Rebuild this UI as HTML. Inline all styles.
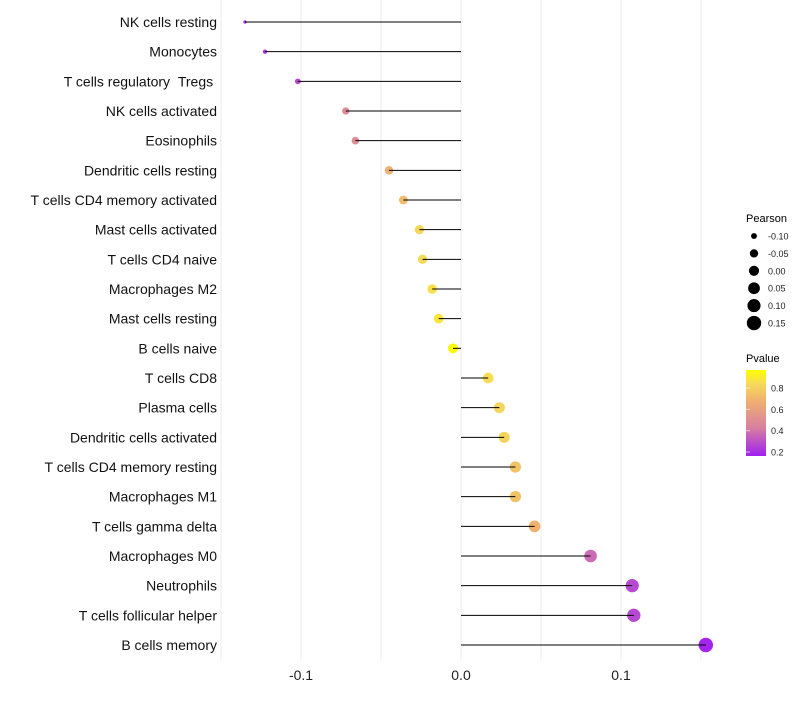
<!DOCTYPE html>
<html><head><meta charset="utf-8"><style>
body{margin:0;background:#fff;font-family:"Liberation Sans",sans-serif}
</style></head><body>
<svg id="chart" width="800" height="700" xmlns="http://www.w3.org/2000/svg">
<defs><linearGradient id="pg" x1="0" y1="1" x2="0" y2="0">
<stop offset="0" stop-color="#a020f0"/><stop offset="0.33" stop-color="#d880a0"/><stop offset="0.64" stop-color="#f0b070"/><stop offset="0.84" stop-color="#f5da5a"/><stop offset="1" stop-color="#ffff00"/>
</linearGradient></defs>
<g id="grid"></g><g id="dots"></g><g id="marks"></g><g id="labels"></g><g id="legend"></g>
</svg>
<script>
const categories=["NK cells resting","Monocytes","T cells regulatory\u00a0\u00a0Tregs\u00a0","NK cells activated","Eosinophils","Dendritic cells resting","T cells CD4 memory activated","Mast cells activated","T cells CD4 naive","Macrophages M2","Mast cells resting","B cells naive","T cells CD8","Plasma cells","Dendritic cells activated","T cells CD4 memory resting","Macrophages M1","T cells gamma delta","Macrophages M0","Neutrophils","T cells follicular helper","B cells memory"];
const pearson=[-0.135,-0.1225,-0.102,-0.072,-0.066,-0.045,-0.036,-0.026,-0.024,-0.018,-0.014,-0.005,0.017,0.024,0.027,0.034,0.034,0.046,0.081,0.107,0.108,0.153];
const pvalue=[0.2,0.25,0.3,0.52,0.52,0.7,0.74,0.85,0.86,0.88,0.9,0.97,0.87,0.84,0.83,0.77,0.77,0.7,0.4,0.3,0.3,0.2];
const xTicks=[-0.1,0,0.1];
const xTickLabels=["-0.1","0.0","0.1"];
const sizeLegend=[-0.10,-0.05,0.00,0.05,0.10,0.15];
const sizeLegendLabels=["-0.10","-0.05","0.00","0.05","0.10","0.15"];
const colorTicks=[0.8,0.6,0.4,0.2];

const NS="http://www.w3.org/2000/svg";
const x=v=>461+v*1600;
const y=i=>22+i*(623/21);
const r=v=>Math.sqrt(Math.max(1.5,2.6+(v+0.135)*172));
function col(p){
 const stops=[[0.19,[160,32,240]],[0.45,[214,126,168]],[0.7,[240,176,112]],[0.86,[245,218,90]],[0.98,[255,255,0]]];
 if(p<=stops[0][0])return "rgb("+stops[0][1]+")";
 for(let k=1;k<stops.length;k++){if(p<=stops[k][0]){const a=stops[k-1],b=stops[k],t=(p-a[0])/(b[0]-a[0]);return "rgb("+a[1].map((c,j)=>Math.round(c+(b[1][j]-c)*t)).join(",")+")";}}
 return "rgb(255,255,0)";
}
function mk(tag,attrs,parent,text){const e=document.createElementNS(NS,tag);for(const k in attrs)e.setAttribute(k,attrs[k]);if(text!==undefined)e.textContent=text;document.getElementById(parent).appendChild(e);return e;}
[-0.15,-0.1,-0.05,0,0.05,0.1,0.15].forEach(v=>{
 const g=mk("line",{x1:x(v),x2:x(v),y1:0,y2:660,stroke:"#ebebeb","stroke-width":1},"grid");
 
 
});
xTicks.forEach((v,i)=>{
 const t=mk("text",{x:x(v),y:680,"text-anchor":"middle","font-size":14,fill:"#222"},"labels",xTickLabels[i]);
 
 
});
categories.forEach((c,i)=>{
 const d=mk("circle",{cx:x(pearson[i]),cy:y(i),r:r(pearson[i]),fill:col(pvalue[i])},"dots");
 
 
 const l=mk("line",{x1:x(0),x2:x(pearson[i]),y1:y(i),y2:y(i),stroke:"#000","stroke-width":1},"marks");
 
 
 const t=mk("text",{x:217,y:y(i)+5,"text-anchor":"end","font-size":14,fill:"#111"},"labels",c);
 
 
});
const lt=mk("text",{x:746,y:222,"font-size":11,fill:"#000"},"legend","Pearson");


sizeLegend.forEach((v,i)=>{
 const cy=236+i*17.4;
 const c=mk("circle",{cx:754,cy:cy,r:r(v),fill:"#000"},"legend");
 
 
 const t=mk("text",{x:768,y:cy+3.5,"font-size":9,fill:"#222"},"legend",sizeLegendLabels[i]);
 
 
});
const pt=mk("text",{x:746,y:362,"font-size":11,fill:"#000"},"legend","Pvalue");


const bar=mk("rect",{x:746,y:370,width:20,height:86,fill:"url(#pg)"},"legend");


const cy=p=>452-(p-0.2)/0.2*21.3;
colorTicks.forEach(p=>{
 const tk=mk("line",{x1:746,x2:750,y1:cy(p),y2:cy(p),stroke:"#fff","stroke-opacity":0.6},"legend");
 
 
 const t=mk("text",{x:771,y:cy(p)+3.5,"font-size":9,fill:"#222"},"legend",p.toFixed(1));
 
 
});
</script>
</body></html>
